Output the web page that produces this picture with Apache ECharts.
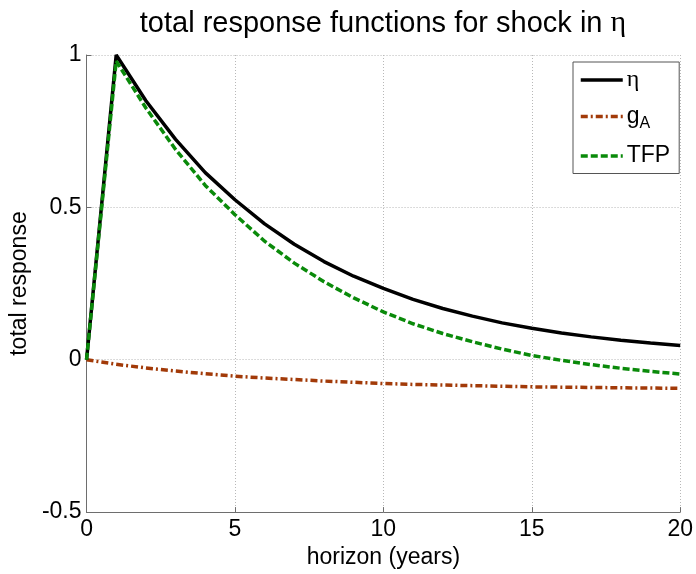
<!DOCTYPE html>
<html>
<head>
<meta charset="utf-8">
<script src="https://cdn.jsdelivr.net/npm/echarts@6/dist/echarts.min.js"></script>
<style>
html,body{margin:0;padding:0;background:#fff;}
#chart{width:696px;height:574px;}
</style>
</head>
<body>
<div id="chart"></div>
<script>
// horizon in years
var years = [0,1,2,3,4,5,6,7,8,9,10,11,12,13,14,15,16,17,18,19,20];
// total response of eta
var etaValues = [0, 1.000, 0.850, 0.723, 0.614, 0.525, 0.446, 0.379, 0.322, 0.274, 0.234, 0.198, 0.168, 0.143, 0.121, 0.103, 0.088, 0.075, 0.064, 0.055, 0.047];
// total response of g_A
var gAValues = [0, -0.015, -0.027, -0.037, -0.046, -0.054, -0.060, -0.065, -0.070, -0.074, -0.078, -0.081, -0.083, -0.085, -0.087, -0.089, -0.090, -0.091, -0.092, -0.093, -0.094];
// total response of TFP
var tfpValues = [0, 0.980, 0.826, 0.690, 0.572, 0.476, 0.389, 0.317, 0.256, 0.203, 0.157, 0.118, 0.086, 0.059, 0.035, 0.014, -0.002, -0.016, -0.028, -0.038, -0.047];
var seriesNames = ['η', 'gA', 'TFP'];
var xTicks = [0, 5, 10, 15, 20];
var yTicks = [-0.5, 0, 0.5, 1];

function pairs(vals){ return years.map(function(y,i){ return [y, vals[i]]; }); }

var FONT = '"Liberation Sans", Arial, sans-serif';
var SERIF = '"Liberation Serif", "DejaVu Serif", serif';
var axisGray = '#6e6e6e';
var gridStyle = {show:true, lineStyle:{color:'#b8b8b8', width:1, type:[1,2]}};

var chart = echarts.init(document.getElementById('chart'), null, {renderer:'canvas'});
chart.setOption({
  animation:false,
  backgroundColor:'#ffffff',
  title:{
    text:'total response functions for shock in {e|η}',
    left:383, textAlign:'center', top:9, padding:0,
    textStyle:{fontFamily:FONT, fontSize:29, fontWeight:'normal', color:'#000', lineHeight:29,
      rich:{e:{fontFamily:SERIF, fontSize:30, color:'#000'}}}
  },
  grid:{left:85, right:14, top:55, bottom:55, containLabel:false},
  legend:{
    data:seriesNames,
    orient:'vertical',
    left:573, top:62,
    padding:[6,9,6,6],
    itemGap:13,
    itemWidth:42, itemHeight:14,
    borderColor:'#555', borderWidth:1,
    backgroundColor:'#fff',
    itemStyle:{opacity:0, borderWidth:0},
    lineStyle:{width:3.5},
    textStyle:{fontFamily:FONT, fontSize:23, color:'#000', padding:[0,0,0,-1],
      rich:{
        e:{fontFamily:SERIF, fontSize:24, color:'#000'},
        g:{fontFamily:FONT, fontSize:23, color:'#000'},
        s:{fontFamily:FONT, fontSize:16, color:'#000', padding:[14,0,0,0]}
      }},
    formatter:function(n){
      if(n==='η') return '{e|η}';
      if(n==='gA') return '{g|g}{s|A}';
      return n;
    }
  },
  xAxis:{
    type:'value', min:0, max:20, interval:5,
    name:'horizon (years)', nameLocation:'middle', nameGap:33,
    nameTextStyle:{fontFamily:FONT, fontSize:23, color:'#000'},
    axisLine:{show:true, onZero:false, lineStyle:{color:axisGray, width:1}},
    axisTick:{show:true, inside:true, length:5, lineStyle:{color:axisGray}},
    axisLabel:{fontFamily:FONT, fontSize:23, color:'#000', margin:6},
    splitLine:gridStyle
  },
  yAxis:{
    type:'value', min:-0.5, max:1, interval:0.5,
    name:'total response', nameLocation:'middle', nameGap:41, nameRotate:90,
    nameTextStyle:{fontFamily:FONT, fontSize:23, color:'#000'},
    axisLine:{show:true, onZero:false, lineStyle:{color:axisGray, width:1}},
    axisTick:{show:true, inside:true, length:5, lineStyle:{color:axisGray}},
    axisLabel:{fontFamily:FONT, fontSize:23, color:'#000', margin:5},
    splitLine:gridStyle
  },
  series:[
    {name:'η', type:'line', data:pairs(etaValues), symbol:'none', smooth:false,
     lineStyle:{color:'#000000', width:3.5, type:'solid'}, itemStyle:{color:'#000000'}, z:4},
    {name:'gA', type:'line', data:pairs(gAValues), symbol:'none', smooth:false,
     lineStyle:{color:'#a23a08', width:3.5, type:[7,3,2,3]}, itemStyle:{color:'#a23a08'}, z:3},
    {name:'TFP', type:'line', data:pairs(tfpValues), symbol:'none', smooth:false,
     lineStyle:{color:'#0a8a0a', width:3.5, type:[7,3]}, itemStyle:{color:'#0a8a0a'}, z:5}
  ]
});
</script>
</body>
</html>
